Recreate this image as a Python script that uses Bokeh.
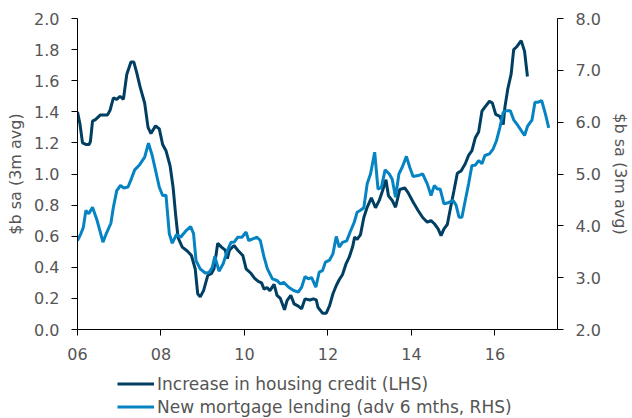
from bokeh.plotting import figure
from bokeh.layouts import column
from bokeh.models import (Range1d, LinearAxis, FixedTicker, Legend, LegendItem,
                          NumeralTickFormatter)
from bokeh.embed import file_html
from bokeh.resources import INLINE

# ---- data (decimal years) ----
credit_x = [2006.00, 2006.06, 2006.12, 2006.20, 2006.28, 2006.31, 2006.36, 2006.43, 2006.55, 2006.67,
            2006.72, 2006.78, 2006.86, 2006.94, 2007.02, 2007.10, 2007.18, 2007.28, 2007.35, 2007.42,
            2007.50, 2007.61, 2007.69, 2007.76, 2007.87, 2007.96, 2008.04, 2008.12, 2008.22, 2008.29,
            2008.35, 2008.41, 2008.51, 2008.63, 2008.73, 2008.82, 2008.88, 2008.94, 2009.02, 2009.12,
            2009.21, 2009.27, 2009.36, 2009.45, 2009.54, 2009.59, 2009.64, 2009.75, 2009.84, 2009.96,
            2010.04, 2010.16, 2010.24, 2010.33, 2010.41, 2010.47, 2010.54, 2010.61, 2010.71, 2010.78,
            2010.86, 2010.96, 2011.02, 2011.11, 2011.19, 2011.29, 2011.37, 2011.45, 2011.57, 2011.65,
            2011.72, 2011.76, 2011.87, 2011.96, 2012.04, 2012.12, 2012.20, 2012.27, 2012.35, 2012.43,
            2012.51, 2012.59, 2012.64, 2012.70, 2012.78, 2012.86, 2012.94, 2013.04, 2013.14, 2013.23,
            2013.31, 2013.39, 2013.45, 2013.54, 2013.62, 2013.72, 2013.84, 2013.92, 2014.04, 2014.16,
            2014.27, 2014.38, 2014.47, 2014.55, 2014.64, 2014.71, 2014.78, 2014.86, 2014.94, 2015.02,
            2015.10, 2015.19, 2015.29, 2015.37, 2015.45, 2015.53, 2015.61, 2015.69, 2015.76, 2015.87,
            2015.94, 2016.02, 2016.12, 2016.20, 2016.24, 2016.31, 2016.39, 2016.45, 2016.53, 2016.63,
            2016.71, 2016.78]
credit_y = [1.40, 1.32, 1.20, 1.19, 1.19, 1.21, 1.34, 1.35, 1.38, 1.38,
            1.38, 1.41, 1.49, 1.48, 1.50, 1.48, 1.64, 1.72, 1.72, 1.65,
            1.56, 1.455, 1.30, 1.26, 1.31, 1.29, 1.19, 1.15, 1.05, 0.915,
            0.74, 0.59, 0.53, 0.505, 0.476, 0.39, 0.23, 0.21, 0.25, 0.347,
            0.36, 0.39, 0.555, 0.53, 0.51, 0.455, 0.51, 0.54, 0.51, 0.476,
            0.39, 0.36, 0.33, 0.31, 0.30, 0.26, 0.27, 0.25, 0.29, 0.22,
            0.20, 0.127, 0.186, 0.22, 0.165, 0.15, 0.133, 0.197, 0.19, 0.197,
            0.19, 0.143, 0.105, 0.105, 0.154, 0.23, 0.283, 0.32, 0.354, 0.42,
            0.465, 0.53, 0.594, 0.58, 0.61, 0.72, 0.786, 0.847, 0.783, 0.83,
            0.894, 0.963, 0.86, 0.83, 0.786, 0.90, 0.91, 0.88, 0.82, 0.765,
            0.72, 0.69, 0.70, 0.68, 0.647, 0.604, 0.647, 0.675, 0.786, 0.894,
            1.005, 1.02, 1.066, 1.12, 1.15, 1.233, 1.27, 1.404, 1.43, 1.468,
            1.456, 1.383, 1.37, 1.318, 1.43, 1.548, 1.644, 1.80, 1.82, 1.858,
            1.79, 1.627]

lending_x = [2006.00, 2006.08, 2006.14, 2006.20, 2006.27, 2006.36, 2006.47, 2006.61, 2006.70, 2006.80,
             2006.86, 2006.94, 2007.03, 2007.11, 2007.21, 2007.29, 2007.37, 2007.49, 2007.61, 2007.70,
             2007.79, 2007.87, 2007.96, 2008.04, 2008.12, 2008.20, 2008.27, 2008.37, 2008.47, 2008.59,
             2008.71, 2008.78, 2008.84, 2008.94, 2009.06, 2009.15, 2009.23, 2009.29, 2009.39, 2009.49,
             2009.59, 2009.68, 2009.76, 2009.84, 2009.94, 2010.04, 2010.10, 2010.20, 2010.30, 2010.38,
             2010.47, 2010.55, 2010.67, 2010.78, 2010.86, 2010.94, 2011.06, 2011.18, 2011.29, 2011.37,
             2011.45, 2011.53, 2011.61, 2011.71, 2011.79, 2011.87, 2011.94, 2012.04, 2012.12, 2012.20,
             2012.27, 2012.35, 2012.45, 2012.53, 2012.63, 2012.70, 2012.78, 2012.86, 2012.94, 2013.02,
             2013.12, 2013.20, 2013.28, 2013.37, 2013.47, 2013.54, 2013.62, 2013.70, 2013.78, 2013.88,
             2013.96, 2014.04, 2014.16, 2014.27, 2014.38, 2014.47, 2014.55, 2014.62, 2014.69, 2014.78,
             2014.86, 2015.00, 2015.07, 2015.14, 2015.21, 2015.29, 2015.37, 2015.45, 2015.53, 2015.61,
             2015.69, 2015.76, 2015.87, 2015.96, 2016.04, 2016.12, 2016.20, 2016.27, 2016.37, 2016.45,
             2016.55, 2016.63, 2016.71, 2016.78, 2016.89, 2016.96, 2017.04, 2017.12, 2017.21, 2017.29]
lending_y = [3.717, 3.846, 3.97, 4.296, 4.232, 4.36, 4.103, 3.685, 3.87, 4.05,
             4.36, 4.68, 4.778, 4.73, 4.75, 4.907, 5.08, 5.18, 5.325, 5.595,
             5.357, 5.07, 4.745, 4.585, 4.59, 3.846, 3.665, 3.83, 3.78, 3.897,
             3.987, 3.85, 3.33, 3.17, 3.09, 3.10, 3.20, 3.41, 3.125, 3.27,
             3.52, 3.685, 3.69, 3.78, 3.78, 3.88, 3.717, 3.75, 3.78, 3.717,
             3.395, 3.17, 2.978, 2.945, 2.88, 2.91, 2.816, 2.752, 2.72, 2.816,
             3.02, 2.98, 3.00, 2.816, 3.105, 3.136, 3.30, 3.34, 3.46, 3.794,
             3.59, 3.68, 3.71, 3.877, 4.07, 4.263, 4.30, 4.35, 4.81, 5.00,
             5.42, 4.71, 4.74, 5.08, 5.00, 4.90, 4.55, 5.00, 5.13, 5.34,
             5.13, 4.95, 4.97, 5.00, 4.81, 4.585, 4.78, 4.71, 4.71, 4.425,
             4.44, 4.49, 4.40, 4.167, 4.167, 4.49, 4.81, 5.164, 5.17, 5.26,
             5.20, 5.357, 5.39, 5.486, 5.647, 5.90, 6.19, 6.22, 6.22, 6.046,
             5.936, 5.84, 5.743, 5.917, 6.046, 6.386, 6.386, 6.418, 6.16, 5.89]

x_ticks = [2006, 2008, 2010, 2012, 2014, 2016]
x_tick_labels = ["06", "08", "10", "12", "14", "16"]
lhs_ticks = [0.0, 0.2, 0.4, 0.6, 0.8, 1.0, 1.2, 1.4, 1.6, 1.8, 2.0]
rhs_ticks = [2.0, 3.0, 4.0, 5.0, 6.0, 7.0, 8.0]
series_labels = ["Increase in housing credit (LHS)", "New mortgage lending (adv 6 mths, RHS)"]
axis_title = "$b sa (3m avg)"

DARK = "#003F62"
LIGHT = "#0683C2"
FONT = "DejaVu Sans"
TXT = "#555555"

# ---- main chart ----
p = figure(width=632, height=366, output_backend="svg", toolbar_location=None, title=None,
           x_range=Range1d(2006, 2017.5), y_range=Range1d(0, 2),
           min_border_left=77, min_border_right=67, min_border_top=18, min_border_bottom=37)
p.extra_y_ranges = {"rhs": Range1d(2, 8)}
p.outline_line_color = None
p.xgrid.visible = False
p.ygrid.visible = False

r1 = p.line(credit_x, credit_y, line_color=DARK, line_width=3)
r2 = p.line(lending_x, lending_y, line_color=LIGHT, line_width=3, y_range_name="rhs")

rax = LinearAxis(y_range_name="rhs")
p.add_layout(rax, "right")

p.xaxis.ticker = FixedTicker(ticks=x_ticks)
p.xaxis.major_label_overrides = {t: l for t, l in zip(x_ticks, x_tick_labels)}
p.yaxis[0].ticker = FixedTicker(ticks=lhs_ticks)
p.yaxis[0].formatter = NumeralTickFormatter(format="0.0")
rax.ticker = FixedTicker(ticks=rhs_ticks)
rax.formatter = NumeralTickFormatter(format="0.0")
p.yaxis[0].axis_label = axis_title
rax.axis_label = axis_title

for ax in [p.xaxis[0], p.yaxis[0], rax]:
    ax.axis_line_color = "black"
    ax.axis_line_width = 1
    ax.major_tick_line_color = "black"
    ax.major_tick_in = 0
    ax.major_tick_out = 6
    ax.minor_tick_line_color = None
    ax.major_label_text_font = FONT
    ax.major_label_text_font_size = "16px"
    ax.major_label_text_color = TXT
    ax.axis_label_text_font = FONT
    ax.axis_label_text_font_size = "16px"
    ax.axis_label_text_color = TXT
    ax.axis_label_text_font_style = "normal"

p.xaxis[0].major_label_standoff = 12
p.yaxis[0].major_label_standoff = 12
rax.major_label_standoff = 12
p.yaxis[0].axis_label_standoff = 6
rax.axis_label_standoff = 7

# ---- legend strip below the chart (its frame is aligned with the chart's frame) ----
lg = figure(width=632, height=52, output_backend="svg", toolbar_location=None, title=None,
            x_range=Range1d(0, 1), y_range=Range1d(0, 1),
            min_border_left=77, min_border_right=67, min_border_top=0, min_border_bottom=0)
lg.axis.visible = False
lg.grid.visible = False
lg.outline_line_color = None
# same series, lying outside this strip's ranges: only their legend keys show
k1 = lg.line(credit_x, credit_y, line_color=DARK, line_width=3)
k2 = lg.line(lending_x, lending_y, line_color=LIGHT, line_width=3)

legend = Legend(items=[LegendItem(label=series_labels[0], renderers=[k1]),
                       LegendItem(label=series_labels[1], renderers=[k2])],
                location=(40, 0), orientation="vertical",
                glyph_width=37, glyph_height=23, label_height=23, label_standoff=3,
                spacing=0, padding=0, margin=0,
                border_line_color=None, background_fill_alpha=0,
                label_text_font=FONT, label_text_font_size="17px", label_text_color=TXT)
lg.add_layout(legend, "center")

layout = column(p, lg, spacing=0)
open("out.html", "w").write(file_html(layout, INLINE))
